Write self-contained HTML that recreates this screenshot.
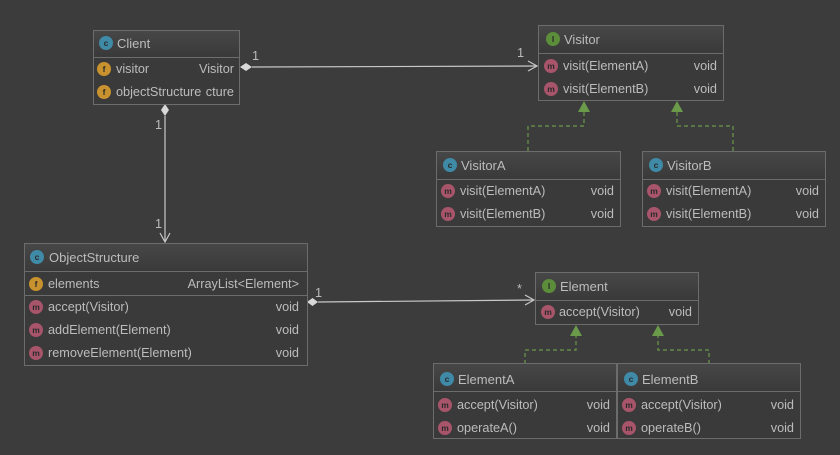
<!DOCTYPE html>
<html><head><style>
html,body{margin:0;padding:0;background:#3c3c3c;}
svg{display:block;}
text{font-family:"Liberation Sans",sans-serif;font-size:12.7px;fill:#bcbcbc;}
.h{font-size:13px;}
.ic{font-size:8.5px;fill:#2a2a2a;text-anchor:middle;font-weight:bold;}
.r{text-anchor:end;}
</style></head><body>
<svg width="840" height="455" viewBox="0 0 840 455" xmlns="http://www.w3.org/2000/svg">
<defs>
<linearGradient id="hg" x1="0" y1="0" x2="0" y2="1"><stop offset="0" stop-color="#474747"/><stop offset="1" stop-color="#3a3a3a"/></linearGradient>
</defs>
<rect width="840" height="455" fill="#3c3c3c"/>

<!-- connectors -->
<g stroke="#c8c8c8" stroke-width="1.2" fill="none">
<line x1="252" y1="67" x2="537" y2="66"/>
<polyline points="528,61 537,66 528,71"/>
<line x1="165" y1="116" x2="165" y2="242"/>
<polyline points="160,233 165,242 170,233"/>
<line x1="318" y1="302" x2="534" y2="300"/>
<polyline points="525,295 534,300 525,305"/>
</g>
<g fill="#d8d8d8">
<polygon points="240,67 246,63 252,67 246,71"/>
<polygon points="165,104 169,110 165,116 161,110"/>
<polygon points="307,302 312.5,298 318,302 312.5,306"/>
</g>
<text x="252" y="60">1</text>
<text x="517" y="57">1</text>
<text x="155" y="129">1</text>
<text x="155" y="228">1</text>
<text x="315" y="297">1</text>
<text x="517" y="293">*</text>

<g stroke="#6a9a4a" stroke-width="1.2" fill="none" stroke-dasharray="4,3">
<polyline points="528,151 528,126 584,126 584,112"/>
<polyline points="733,151 733,126 677,126 677,112"/>
<polyline points="525,364 525,350 576,350 576,336"/>
<polyline points="709,364 709,350 658,350 658,336"/>
</g>
<g fill="#6a9a4a">
<polygon points="584,101 578,112 590,112"/>
<polygon points="677,101 671,112 683,112"/>
<polygon points="576,325 570,336 582,336"/>
<polygon points="658,325 652,336 664,336"/>
</g>

<!-- Client -->
<g>
<rect x="93.5" y="30.5" width="146" height="74" fill="#3a3a3a" stroke="#6c6c6c"/>
<rect x="94" y="31" width="145" height="25" fill="url(#hg)"/>
<line x1="94" y1="57.5" x2="239" y2="57.5" stroke="#6c6c6c"/>
<circle cx="106" cy="43" r="7" fill="#3f8aa6"/><text class="ic" x="106" y="46">c</text>
<text class="h" x="117" y="48">Client</text>
<circle cx="104" cy="69" r="7" fill="#c8922e"/><text class="ic" x="104" y="72">f</text>
<text x="116" y="73">visitor</text><text class="r" x="234" y="73">Visitor</text>
<circle cx="104" cy="92" r="7" fill="#c8922e"/><text class="ic" x="104" y="95">f</text>
<text x="116" y="96">objectStructure</text><text class="r" x="234" y="96">cture</text>
</g>

<!-- Visitor -->
<g>
<rect x="538.5" y="25.5" width="185" height="75" fill="#3a3a3a" stroke="#6c6c6c"/>
<rect x="539" y="26" width="184" height="26" fill="url(#hg)"/>
<line x1="539" y1="53.5" x2="723" y2="53.5" stroke="#6c6c6c"/>
<circle cx="553" cy="39" r="7" fill="#5b8d3a"/><text class="ic" x="553" y="42">I</text>
<text class="h" x="564" y="44">Visitor</text>
<circle cx="551" cy="66" r="7" fill="#a8556b"/><text class="ic" x="551" y="69">m</text>
<text x="563" y="70">visit(ElementA)</text><text class="r" x="717" y="70">void</text>
<circle cx="551" cy="89" r="7" fill="#a8556b"/><text class="ic" x="551" y="92">m</text>
<text x="563" y="93">visit(ElementB)</text><text class="r" x="717" y="93">void</text>
</g>

<!-- VisitorA -->
<g>
<rect x="436.5" y="151.5" width="184" height="75" fill="#3a3a3a" stroke="#6c6c6c"/>
<rect x="437" y="152" width="183" height="26" fill="url(#hg)"/>
<line x1="437" y1="179.5" x2="620" y2="179.5" stroke="#6c6c6c"/>
<circle cx="450" cy="165" r="7" fill="#3f8aa6"/><text class="ic" x="450" y="168">c</text>
<text class="h" x="461" y="170">VisitorA</text>
<circle cx="448" cy="191" r="7" fill="#a8556b"/><text class="ic" x="448" y="194">m</text>
<text x="460" y="195">visit(ElementA)</text><text class="r" x="614" y="195">void</text>
<circle cx="448" cy="214" r="7" fill="#a8556b"/><text class="ic" x="448" y="217">m</text>
<text x="460" y="218">visit(ElementB)</text><text class="r" x="614" y="218">void</text>
</g>

<!-- VisitorB -->
<g>
<rect x="642.5" y="151.5" width="183" height="75" fill="#3a3a3a" stroke="#6c6c6c"/>
<rect x="643" y="152" width="182" height="26" fill="url(#hg)"/>
<line x1="643" y1="179.5" x2="825" y2="179.5" stroke="#6c6c6c"/>
<circle cx="656" cy="165" r="7" fill="#3f8aa6"/><text class="ic" x="656" y="168">c</text>
<text class="h" x="667" y="170">VisitorB</text>
<circle cx="654" cy="191" r="7" fill="#a8556b"/><text class="ic" x="654" y="194">m</text>
<text x="666" y="195">visit(ElementA)</text><text class="r" x="819" y="195">void</text>
<circle cx="654" cy="214" r="7" fill="#a8556b"/><text class="ic" x="654" y="217">m</text>
<text x="666" y="218">visit(ElementB)</text><text class="r" x="819" y="218">void</text>
</g>

<!-- ObjectStructure -->
<g>
<rect x="24.5" y="243.5" width="283" height="122" fill="#3a3a3a" stroke="#6c6c6c"/>
<rect x="25" y="244" width="282" height="27" fill="url(#hg)"/>
<line x1="25" y1="271.5" x2="307" y2="271.5" stroke="#6c6c6c"/>
<line x1="25" y1="295.5" x2="307" y2="295.5" stroke="#6c6c6c"/>
<circle cx="37" cy="257" r="7" fill="#3f8aa6"/><text class="ic" x="37" y="260">c</text>
<text class="h" x="49" y="262">ObjectStructure</text>
<circle cx="36" cy="284" r="7" fill="#c8922e"/><text class="ic" x="36" y="287">f</text>
<text x="48" y="288">elements</text><text class="r" x="299" y="288">ArrayList&lt;Element&gt;</text>
<circle cx="36" cy="307" r="7" fill="#a8556b"/><text class="ic" x="36" y="310">m</text>
<text x="48" y="311">accept(Visitor)</text><text class="r" x="299" y="311">void</text>
<circle cx="36" cy="330" r="7" fill="#a8556b"/><text class="ic" x="36" y="333">m</text>
<text x="48" y="334">addElement(Element)</text><text class="r" x="299" y="334">void</text>
<circle cx="36" cy="353" r="7" fill="#a8556b"/><text class="ic" x="36" y="356">m</text>
<text x="48" y="357">removeElement(Element)</text><text class="r" x="299" y="357">void</text>
</g>

<!-- Element -->
<g>
<rect x="535.5" y="272.5" width="163" height="52" fill="#3a3a3a" stroke="#6c6c6c"/>
<rect x="536" y="273" width="162" height="26" fill="url(#hg)"/>
<line x1="536" y1="300.5" x2="698" y2="300.5" stroke="#6c6c6c"/>
<circle cx="549" cy="286" r="7" fill="#5b8d3a"/><text class="ic" x="549" y="289">I</text>
<text class="h" x="560" y="291">Element</text>
<circle cx="548" cy="312" r="7" fill="#a8556b"/><text class="ic" x="548" y="315">m</text>
<text x="559" y="316">accept(Visitor)</text><text class="r" x="692" y="316">void</text>
</g>

<!-- ElementA -->
<g>
<rect x="433.5" y="363.5" width="183" height="75" fill="#3a3a3a" stroke="#6c6c6c"/>
<rect x="434" y="364" width="182" height="26" fill="url(#hg)"/>
<line x1="434" y1="391.5" x2="616" y2="391.5" stroke="#6c6c6c"/>
<circle cx="447" cy="379" r="7" fill="#3f8aa6"/><text class="ic" x="447" y="382">c</text>
<text class="h" x="458" y="384">ElementA</text>
<circle cx="445" cy="405" r="7" fill="#a8556b"/><text class="ic" x="445" y="408">m</text>
<text x="457" y="409">accept(Visitor)</text><text class="r" x="610" y="409">void</text>
<circle cx="445" cy="428" r="7" fill="#a8556b"/><text class="ic" x="445" y="431">m</text>
<text x="457" y="432">operateA()</text><text class="r" x="610" y="432">void</text>
</g>

<!-- ElementB -->
<g>
<rect x="617.5" y="363.5" width="183" height="75" fill="#3a3a3a" stroke="#6c6c6c"/>
<rect x="618" y="364" width="182" height="26" fill="url(#hg)"/>
<line x1="618" y1="391.5" x2="800" y2="391.5" stroke="#6c6c6c"/>
<circle cx="631" cy="379" r="7" fill="#3f8aa6"/><text class="ic" x="631" y="382">c</text>
<text class="h" x="642" y="384">ElementB</text>
<circle cx="629" cy="405" r="7" fill="#a8556b"/><text class="ic" x="629" y="408">m</text>
<text x="641" y="409">accept(Visitor)</text><text class="r" x="794" y="409">void</text>
<circle cx="629" cy="428" r="7" fill="#a8556b"/><text class="ic" x="629" y="431">m</text>
<text x="641" y="432">operateB()</text><text class="r" x="794" y="432">void</text>
</g>
</svg>
</body></html>
